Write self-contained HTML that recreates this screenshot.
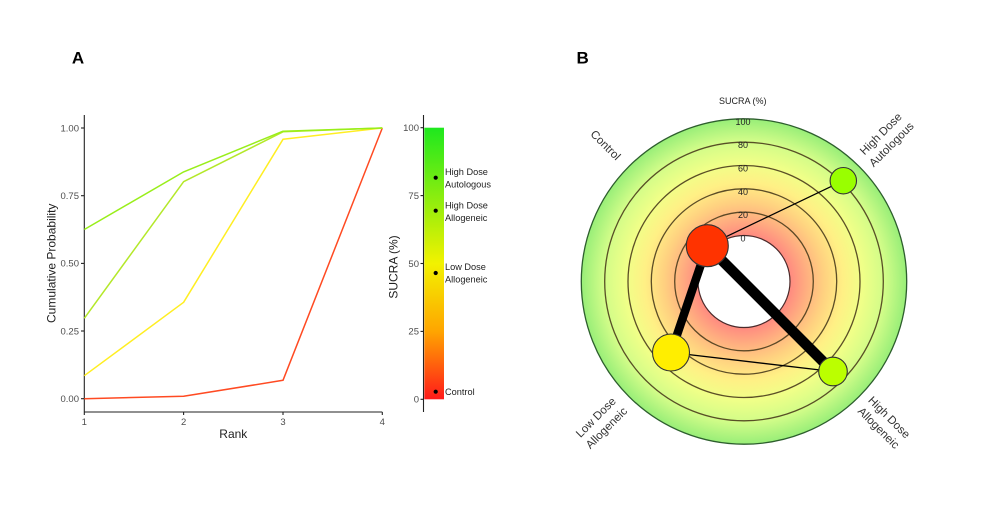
<!DOCTYPE html>
<html><head><meta charset="utf-8"><style>
html,body{margin:0;padding:0;background:#fff;}
svg{display:block;font-family:"Liberation Sans",Arial,sans-serif;}
</style></head><body>
<svg width="986" height="506" viewBox="0 0 986 506" xmlns="http://www.w3.org/2000/svg">
<defs>
<linearGradient id="cb" x1="0" y1="0" x2="0" y2="1">
<stop offset="0" stop-color="#1ee81e"/>
<stop offset="0.5" stop-color="#f2f200"/>
<stop offset="0.75" stop-color="#ffa500"/>
<stop offset="1" stop-color="#ff1a1a"/>
</linearGradient>
<radialGradient id="rg" gradientUnits="userSpaceOnUse" cx="744" cy="281.5" r="162.7">
<stop offset="0.283" stop-color="#ff8a80"/>
<stop offset="0.39" stop-color="#ffb080"/>
<stop offset="0.49" stop-color="#ffd080"/>
<stop offset="0.61" stop-color="#fff085"/>
<stop offset="0.73" stop-color="#f0ff88"/>
<stop offset="0.87" stop-color="#d0fc88"/>
<stop offset="1" stop-color="#98ee78"/>
</radialGradient>
</defs>
<rect width="986" height="506" fill="#fff"/>

<!-- Panel labels -->
<text x="78" y="63.5" font-size="17" font-weight="bold" text-anchor="middle" fill="#000">A</text>
<text x="582.7" y="63.5" font-size="17" font-weight="bold" text-anchor="middle" fill="#000">B</text>

<!-- Left chart axes -->
<g stroke="#222" stroke-width="1.1" fill="none">
<line x1="84.3" y1="115" x2="84.3" y2="412"/>
<line x1="84.3" y1="412" x2="382.3" y2="412"/>
<line x1="81" y1="128" x2="84.3" y2="128"/>
<line x1="81" y1="195.7" x2="84.3" y2="195.7"/>
<line x1="81" y1="263.4" x2="84.3" y2="263.4"/>
<line x1="81" y1="331" x2="84.3" y2="331"/>
<line x1="81" y1="398.7" x2="84.3" y2="398.7"/>
<line x1="84.3" y1="412" x2="84.3" y2="415"/>
<line x1="183.6" y1="412" x2="183.6" y2="415"/>
<line x1="283" y1="412" x2="283" y2="415"/>
<line x1="382.3" y1="412" x2="382.3" y2="415"/>
</g>
<g font-size="9.5" fill="#4d4d4d" text-anchor="end">
<text x="79" y="131.3">1.00</text>
<text x="79" y="199">0.75</text>
<text x="79" y="266.7">0.50</text>
<text x="79" y="334.3">0.25</text>
<text x="79" y="402">0.00</text>
</g>
<g font-size="9.5" fill="#4d4d4d" text-anchor="middle">
<text x="84.3" y="425">1</text>
<text x="183.6" y="425">2</text>
<text x="283" y="425">3</text>
<text x="382.3" y="425">4</text>
</g>
<text x="233.3" y="438" font-size="12" fill="#222" text-anchor="middle">Rank</text>
<text transform="translate(55.5,263.3) rotate(-90)" font-size="12" fill="#222" text-anchor="middle">Cumulative Probability</text>

<!-- Series -->
<g fill="none" stroke-width="1.5" stroke-linejoin="round">
<polyline stroke="#ff4a22" points="84.3,398.7 183.6,396.3 283,380.3 382.3,128"/>
<polyline stroke="#ffee22" points="84.3,375.7 183.6,302.3 283,139.3 382.3,128"/>
<polyline stroke="#b4e82a" points="84.3,318.3 183.6,181.7 283,131.8 382.3,128"/>
<polyline stroke="#99ee1a" points="84.3,229.5 183.6,171.9 283,131.2 382.3,128"/>
</g>

<!-- Color bar -->
<rect x="424.3" y="127.7" width="19.7" height="271.6" fill="url(#cb)"/>
<g stroke="#222" stroke-width="1.1">
<line x1="423.5" y1="115" x2="423.5" y2="412"/>
<line x1="420.5" y1="127.7" x2="423.5" y2="127.7"/>
<line x1="420.5" y1="195.6" x2="423.5" y2="195.6"/>
<line x1="420.5" y1="263.5" x2="423.5" y2="263.5"/>
<line x1="420.5" y1="331.4" x2="423.5" y2="331.4"/>
<line x1="420.5" y1="399.3" x2="423.5" y2="399.3"/>
</g>
<g font-size="9.5" fill="#4d4d4d" text-anchor="end">
<text x="419" y="131">100</text>
<text x="419" y="198.9">75</text>
<text x="419" y="266.8">50</text>
<text x="419" y="334.7">25</text>
<text x="419" y="402.6">0</text>
</g>
<text transform="translate(397.5,267) rotate(-90)" font-size="12" fill="#222" text-anchor="middle">SUCRA (%)</text>
<g fill="#000">
<circle cx="435.7" cy="177.7" r="2.1"/>
<circle cx="435.7" cy="210.7" r="2.1"/>
<circle cx="435.7" cy="273" r="2.1"/>
<circle cx="435.7" cy="391.7" r="2.1"/>
</g>
<g font-size="9.2" fill="#222">
<text x="445" y="175">High Dose</text>
<text x="445" y="187.6">Autologous</text>
<text x="445" y="208.3">High Dose</text>
<text x="445" y="221">Allogeneic</text>
<text x="445" y="270">Low Dose</text>
<text x="445" y="282.6">Allogeneic</text>
<text x="445" y="395">Control</text>
</g>

<!-- Radar -->
<circle cx="744" cy="281.5" r="162.7" fill="url(#rg)" stroke="#2d5e2d" stroke-width="1.3"/>
<g fill="none" stroke="#4a3c1c" stroke-width="1.3" stroke-opacity="0.9">
<circle cx="744" cy="281.5" r="139.3"/>
<circle cx="744" cy="281.5" r="116"/>
<circle cx="744" cy="281.5" r="92.7"/>
<circle cx="744" cy="281.5" r="69.3"/>
</g>
<circle cx="744" cy="281.5" r="46" fill="#fff" stroke="#4a2a2a" stroke-width="1.2"/>
<g font-size="9" fill="#222" text-anchor="middle">
<text x="743" y="124.8">100</text>
<text x="743" y="148.1">80</text>
<text x="743" y="171.4">60</text>
<text x="743" y="194.8">40</text>
<text x="743" y="218.1">20</text>
<text x="743" y="241.5">0</text>
</g>
<text x="742.7" y="104" font-size="9" fill="#222" text-anchor="middle">SUCRA (%)</text>

<!-- edges -->
<g stroke="#000" stroke-linecap="butt">
<line x1="707.3" y1="245.7" x2="843.3" y2="180.7" stroke-width="1.2"/>
<line x1="671" y1="352.5" x2="833" y2="371.5" stroke-width="1.3"/>
<line x1="707.3" y1="245.7" x2="833" y2="371.5" stroke-width="10.5"/>
<line x1="707.3" y1="245.7" x2="671" y2="352.5" stroke-width="8.5"/>
</g>
<!-- nodes -->
<g stroke="#333" stroke-width="1.1">
<circle cx="707.3" cy="245.7" r="21" fill="#ff3300"/>
<circle cx="671" cy="352.5" r="18.5" fill="#ffee00"/>
<circle cx="833" cy="371.5" r="14.3" fill="#bbff00"/>
<circle cx="843.3" cy="180.7" r="13.2" fill="#99ff00"/>
</g>

<!-- radar labels -->
<g font-size="11.5" fill="#333" text-anchor="middle">
<text transform="translate(605.7,145) rotate(45)" dy="4">Control</text>
<g transform="translate(886,139) rotate(-45)">
<text y="-3.5">High Dose</text>
<text y="11.5">Autologous</text>
</g>
<g transform="translate(601,422.5) rotate(-45)">
<text y="-3.5">Low Dose</text>
<text y="11.5">Allogeneic</text>
</g>
<g transform="translate(884,422.5) rotate(45)">
<text y="-3.5">High Dose</text>
<text y="11.5">Allogeneic</text>
</g>
</g>
</svg>
</body></html>
